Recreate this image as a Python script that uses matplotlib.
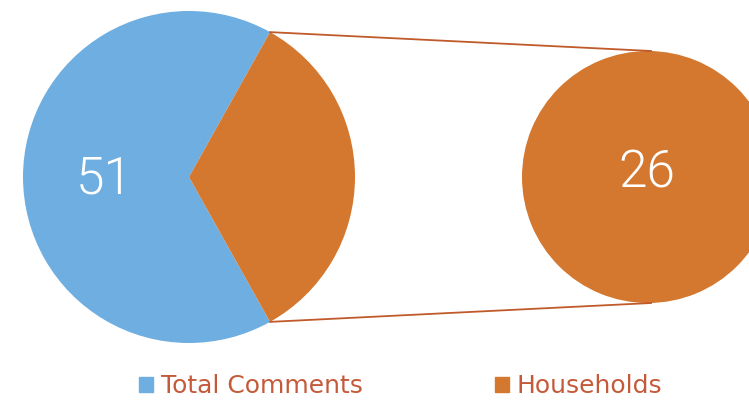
import numpy as np
import matplotlib.pyplot as plt
from matplotlib.patches import Patch

# data
labels = ["Total Comments", "Households"]
values = [51, 26]
sub_values = [26]

blue = "#6FAEE0"
orange = "#D4772F"
line_col = "#C05A2A"
text_col = "#C55A3A"

fig = plt.figure(figsize=(7.49, 4.0), dpi=100)
ax = fig.add_axes([0, 0, 1, 1])

# main pie, orange slice centred on the right
half = values[1] / sum(values) * 180
main_c = (189, 223)
main_r = 166
ax.pie(values, colors=[blue, orange], startangle=half,
       center=main_c, radius=main_r, frame=True)

# the breakout circle
sub_c = (648, 223)
sub_r = 126
ax.pie(sub_values, colors=[orange], center=sub_c, radius=sub_r, frame=True)

ax.set_xlim(0, 749)
ax.set_ylim(0, 400)
ax.set_aspect("equal")
ax.axis("off")

a = np.deg2rad(half)
px = main_c[0] + main_r * np.cos(a)
dy = main_r * np.sin(a)
ax.plot([px, sub_c[0] + 3], [main_c[1] + dy, sub_c[1] + sub_r], color=line_col, lw=1.3)
ax.plot([px, sub_c[0] + 3], [main_c[1] - dy, sub_c[1] - sub_r], color=line_col, lw=1.3)

ax.text(104, 221, str(values[0]), color="white", fontsize=37, ha="center", va="center",
        family="Roboto", fontweight=300)
ax.text(647, 227, str(sub_values[0]), color="white", fontsize=37, ha="center", va="center",
        family="Roboto", fontweight=300)

handles = [Patch(color=blue), Patch(color=orange)]
leg = ax.legend(handles, labels, ncol=2, loc="center", bbox_to_anchor=(0.535, 0.035),
                frameon=False, handlelength=0.56, handleheight=0.56, handletextpad=0.3,
                columnspacing=5.3, prop={"family": "DejaVu Sans", "size": 18})
for t in leg.get_texts():
    t.set_color(text_col)

fig.savefig("out.png", dpi=100)
